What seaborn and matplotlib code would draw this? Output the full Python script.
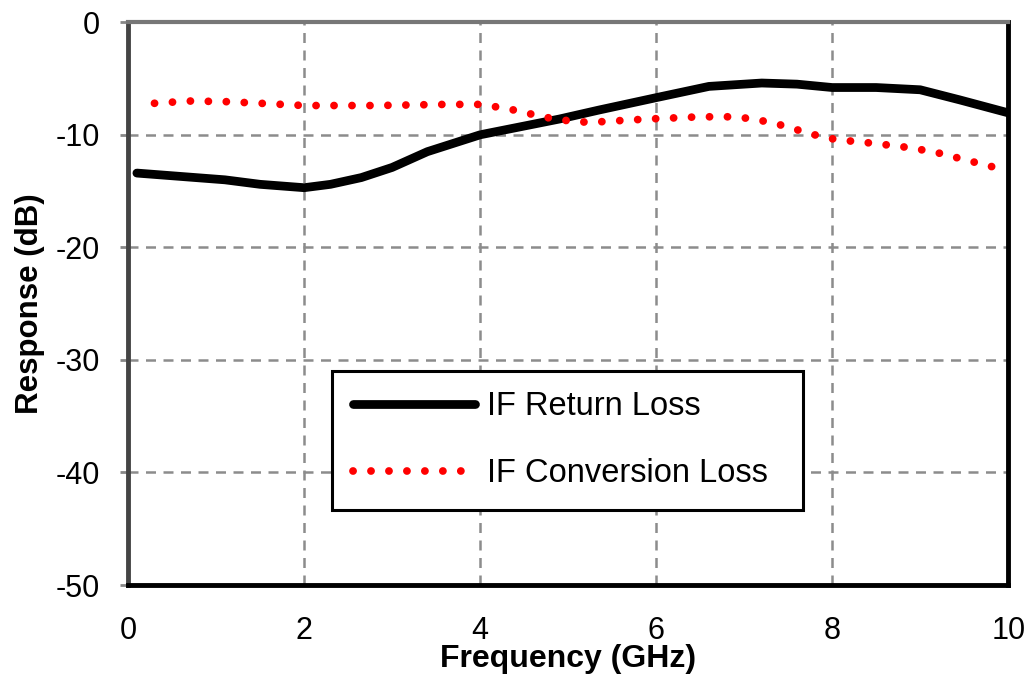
import matplotlib
matplotlib.use("Agg")
import matplotlib.pyplot as plt
import seaborn as sns
import pandas as pd

# Data
rl_freq = [0.1, 0.6, 1.1, 1.5, 2.0, 2.3, 2.65, 3.0, 3.4, 4.0, 4.45, 4.9, 5.35, 6.0, 6.6, 7.2, 7.6, 8.0, 8.5, 9.0, 9.45, 10.0]
rl_db = [-13.4, -13.7, -14.0, -14.4, -14.7, -14.4, -13.8, -12.9, -11.5, -10.0, -9.3, -8.6, -7.8, -6.7, -5.7, -5.4, -5.5, -5.8, -5.8, -6.0, -6.9, -8.05]

cl_freq = [0.3, 0.7, 1.1, 1.5, 2.0, 2.4, 2.8, 3.2, 3.6, 4.0, 4.25, 4.45, 4.65, 4.85, 5.05, 5.25, 5.45, 5.9, 6.5, 6.9, 7.1, 7.3, 7.5, 7.7, 7.9, 8.1, 8.3, 8.5, 8.75, 8.95, 9.15, 9.35, 9.55, 9.75, 10.0]
cl_db = [-7.2, -7.0, -7.05, -7.2, -7.4, -7.4, -7.4, -7.35, -7.3, -7.3, -7.6, -7.9, -8.3, -8.6, -8.8, -8.9, -8.8, -8.6, -8.4, -8.4, -8.6, -8.9, -9.3, -9.8, -10.2, -10.5, -10.6, -10.8, -11.0, -11.25, -11.5, -11.9, -12.3, -12.7, -13.2]

x_ticks = [0, 2, 4, 6, 8, 10]
y_ticks = [0, -10, -20, -30, -40, -50]
series_labels = ["IF Return Loss", "IF Conversion Loss"]

sns.set_style("white")
plt.rcParams['font.family'] = ['Liberation Sans', 'DejaVu Sans']
plt.rcParams['text.color'] = 'black'
plt.rcParams['axes.labelcolor'] = 'black'
plt.rcParams['xtick.color'] = 'black'
plt.rcParams['ytick.color'] = 'black'

fig = plt.figure(figsize=(10.33, 6.74), dpi=100)
ax = fig.add_axes([0.124, 0.132, 0.852, 0.835])

df_rl = pd.DataFrame({"f": rl_freq, "db": rl_db})
df_cl = pd.DataFrame({"f": cl_freq, "db": cl_db})

sns.lineplot(data=df_rl, x="f", y="db", ax=ax, color="black", lw=6.3,
             solid_capstyle="round", solid_joinstyle="round",
             label=series_labels[0], zorder=3)
sns.lineplot(data=df_cl, x="f", y="db", ax=ax, color="#ff0000", lw=5.6,
             linestyle=(0, (0.01, 2.3)), dash_capstyle="round",
             label=series_labels[1], zorder=4)

ax.set_xlim(0, 10)
ax.set_ylim(-50, 0)
ax.set_xticks(x_ticks)
ax.set_yticks(y_ticks)
ax.set_xticklabels([str(t) for t in x_ticks], fontsize=22)
ax.set_yticklabels([str(t) for t in y_ticks], fontsize=22)
ax.tick_params(axis="x", length=0, pad=22, labelcolor="black")
ax.tick_params(axis="y", length=6, width=2, color="#888888", pad=14,
               direction="out", left=True, labelcolor="black")

ax.grid(True, color="#8c8c8c", linestyle=(0, (4, 3)), lw=1.8)
ax.set_axisbelow(True)

for side in ["bottom", "right"]:
    ax.spines[side].set_color("black")
    ax.spines[side].set_linewidth(3.5)
ax.spines["left"].set_color("#444444")
ax.spines["left"].set_linewidth(3.5)
ax.spines["top"].set_color("#777777")
ax.spines["top"].set_linewidth(3)

ax.set_xlabel("Frequency (GHz)", fontsize=23, fontweight="bold", labelpad=-1, color="black")
ax.set_ylabel("Response (dB)", fontsize=22.5, fontweight="bold", labelpad=8, color="black")

leg = ax.legend(loc="upper left", bbox_to_anchor=(0.232, 0.133, 0.535, 0.247),
                mode="expand", fontsize=23.5, frameon=True, fancybox=False,
                handlelength=3.75, handletextpad=0.38, labelspacing=1.1,
                borderpad=0.62, borderaxespad=0)
leg.get_frame().set_edgecolor("black")
leg.get_frame().set_linewidth(2.2)
leg.get_frame().set_alpha(1)
for t in leg.get_texts():
    t.set_color("black")

fig.savefig("out.png", dpi=100, facecolor="white")
